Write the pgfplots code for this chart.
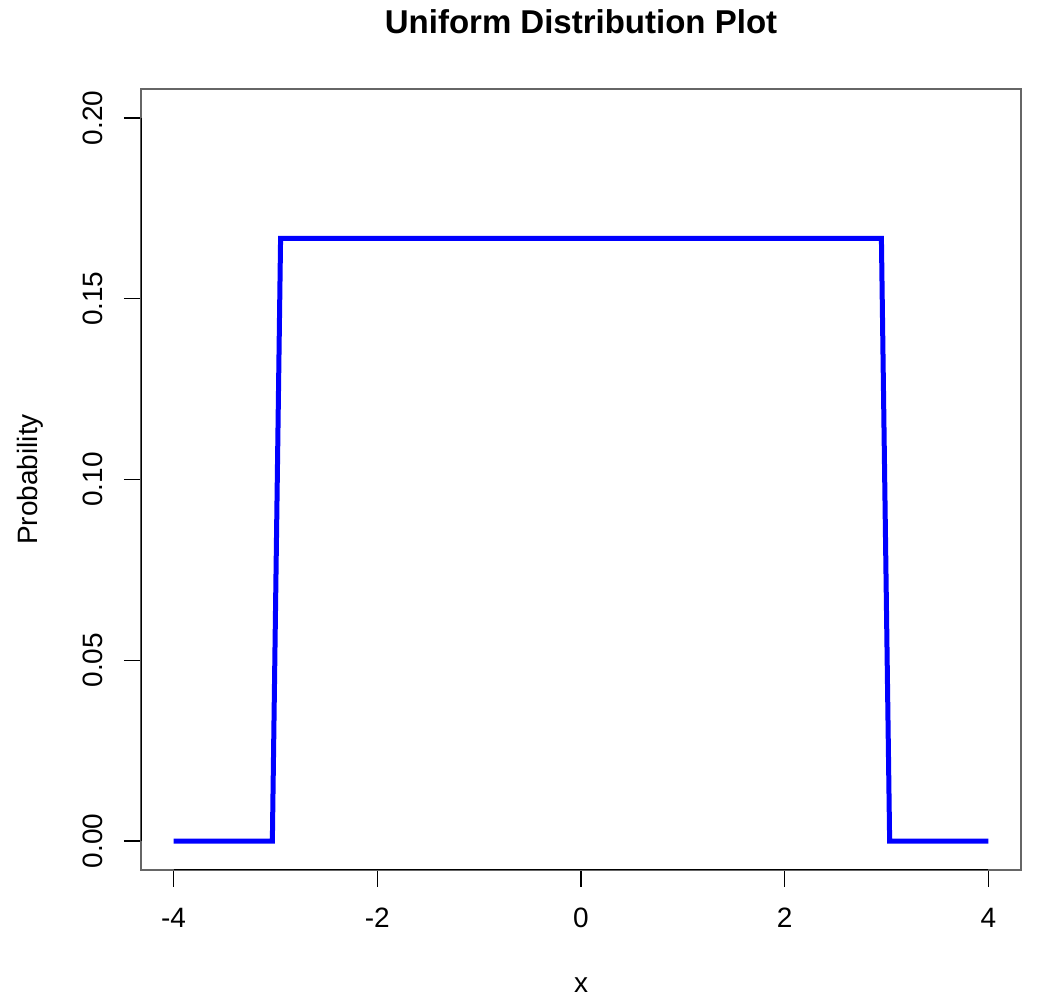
\documentclass[border=0pt]{standalone}
\usepackage{fontspec}
\setmainfont{Liberation Sans}
\usepackage{pgfplots}
\pgfplotsset{compat=1.18}

\begin{document}
\begin{tikzpicture}
\begin{axis}[
  name=ax,
  scale only axis,
  width=440pt, height=390.5pt,
  xmin=-4.32, xmax=4.32,
  ymin=-0.008, ymax=0.208,
  xtick={-4,-2,0,2,4},
  ytick={0,0.05,0.1,0.15,0.2},
  yticklabels={0.00,0.05,0.10,0.15,0.20},
  xtick pos=bottom, ytick pos=left,
  tick align=outside,
  major tick length=8.5pt,
  tick style={black, line width=0.7pt},
  axis line style={gray!80!black, line width=0.9pt},
  /pgf/number format/assume math mode=true,
  ticklabel style={font=\fontsize{14}{16}\selectfont},
  xticklabel style={anchor=north, yshift=-7pt},
  yticklabel style={rotate=90, anchor=south, yshift=7pt},
  title={\bfseries Uniform Distribution Plot},
  title style={font=\fontsize{16.5}{18}\selectfont, at={(0.5,1)}, anchor=center, yshift=27.5pt},
  xlabel={x},
  ylabel={Probability},
  label style={font=\fontsize{14}{16}\selectfont},
  xlabel style={at={(0.5,0)}, anchor=center, yshift=-57.5pt},
  ylabel style={at={(0,0.5)}, anchor=center, yshift=55.5pt},
]
\addplot[blue, line width=2.5pt, line join=miter] coordinates {
  (-4,0) (-3.0303,0) (-2.9495,0.16667) (2.9495,0.16667) (3.0303,0) (4,0)
};
\draw[black, line width=0.9pt] (axis cs:-4,-0.008) -- (axis cs:4,-0.008);
\draw[black, line width=0.9pt] (axis cs:-4.32,0) -- (axis cs:-4.32,0.2);
\end{axis}
\pgfresetboundingbox
\path[use as bounding box] ([xshift=-70.5pt,yshift=-67.5pt]ax.south west) rectangle ([xshift=17.5pt,yshift=44.5pt]ax.north east);
\end{tikzpicture}
\end{document}
